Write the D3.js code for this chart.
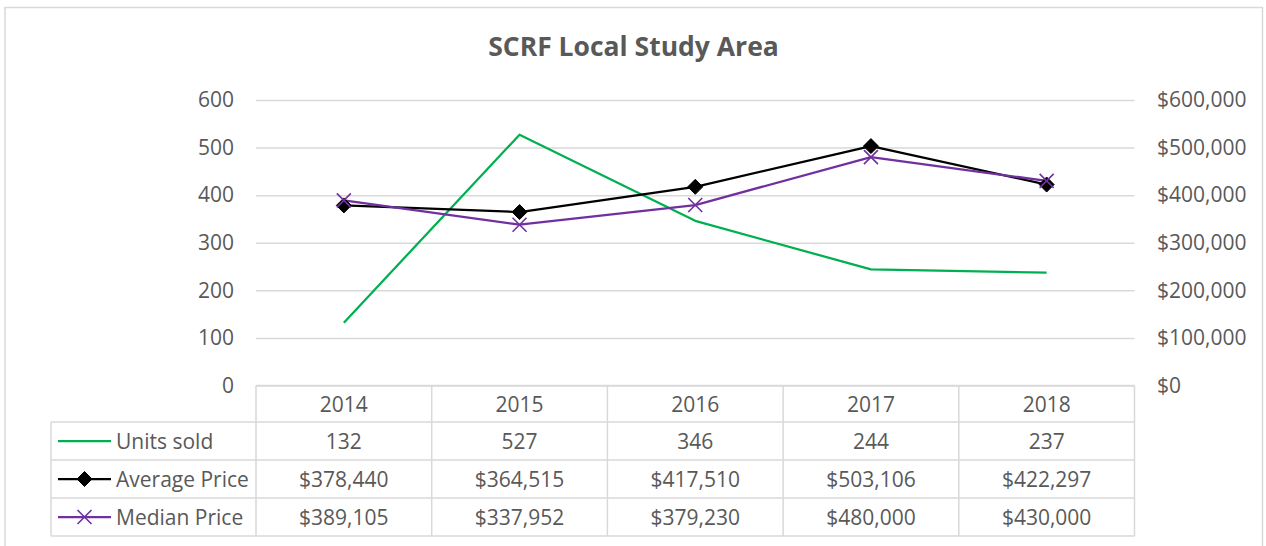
<!DOCTYPE html>
<html>
<head>
<meta charset="utf-8">
<script src="https://cdn.jsdelivr.net/npm/d3@7"></script>
<style>
  html, body { margin: 0; padding: 0; background: #ffffff; }
  svg { display: block; font-family: "Open Sans", sans-serif; }
</style>
</head>
<body>
<svg id="chart" width="1266" height="546"></svg>
<script>
// Yearly figures for the study area
const years = ["2014", "2015", "2016", "2017", "2018"];
const unitsSold = [132, 527, 346, 244, 237];
const averagePrice = [378440, 364515, 417510, 503106, 422297];
const medianPrice = [389105, 337952, 379230, 480000, 430000];
const unitTicks = [0, 100, 200, 300, 400, 500, 600];
const priceTicks = [0, 100000, 200000, 300000, 400000, 500000, 600000];

const seriesNames = ["Units sold", "Average Price", "Median Price"];

const textColor = "#595959";
const gridColor = "#d9d9d9";
const colors = { units: "#00b050", avg: "#000000", med: "#7030a0" };

const svg = d3.select("#chart");

// Outer chart frame
svg.append("rect")
  .attr("x", 5).attr("y", 7.5)
  .attr("width", 1257.5).attr("height", 560)
  .attr("fill", "#fff")
  .attr("stroke", gridColor).attr("stroke-width", 1.5);

const plot = { left: 256, right: 1134.5, top: 100, bottom: 385.5 };

const x = d3.scaleBand().domain(years).range([plot.left, plot.right]).padding(0);
const xc = d => x(d) + x.bandwidth() / 2;
const yUnits = d3.scaleLinear().domain([0, 600]).range([plot.bottom, plot.top]);
const yPrice = d3.scaleLinear().domain([0, 600000]).range([plot.bottom, plot.top]);

// Title
svg.append("text")
  .attr("x", 633.5).attr("y", 56)
  .attr("text-anchor", "middle")
  .attr("font-size", 26.5).attr("font-weight", 700)
  .attr("fill", textColor)
  .text("SCRF Local Study Area");

// Horizontal gridlines
const grid = svg.append("g")
  .attr("transform", `translate(${plot.left},0)`)
  .call(d3.axisLeft(yUnits).tickValues(unitTicks).tickSize(-(plot.right - plot.left)).tickFormat(""));
grid.select(".domain").remove();
grid.selectAll("line").attr("stroke", gridColor).attr("stroke-width", 1.5);

// Left axis (units)
const leftAxis = svg.append("g")
  .attr("transform", `translate(${plot.left},0)`)
  .call(d3.axisLeft(yUnits).tickValues(unitTicks).tickSize(0).tickPadding(22).tickFormat(d3.format("d")));
leftAxis.select(".domain").remove();
leftAxis.selectAll("text")
  .attr("font-size", 21).attr("fill", textColor)
  .attr("font-family", "Open Sans, sans-serif");

// Right axis (prices)
const rightAxis = svg.append("g")
  .attr("transform", `translate(${plot.right},0)`)
  .call(d3.axisRight(yPrice).tickValues(priceTicks).tickSize(0).tickPadding(22.5).tickFormat(d3.format("$,")));
rightAxis.select(".domain").remove();
rightAxis.selectAll("text")
  .attr("font-size", 21).attr("fill", textColor)
  .attr("font-family", "Open Sans, sans-serif");

// Data table below the plot
const rowTops = [385.5, 422, 460, 498, 536];
const legendLeft = 51;
const table = svg.append("g").attr("stroke", gridColor).attr("stroke-width", 1.5).attr("fill", "none");
rowTops.forEach((ry, i) => {
  table.append("line")
    .attr("x1", i === 0 ? plot.left : legendLeft).attr("x2", plot.right)
    .attr("y1", ry).attr("y2", ry);
});
const colEdges = years.map(d => x(d)).concat([plot.right]);
colEdges.forEach(cx => {
  table.append("line").attr("x1", cx).attr("x2", cx)
    .attr("y1", rowTops[0]).attr("y2", rowTops[4]);
});
table.append("line").attr("x1", legendLeft).attr("x2", legendLeft)
  .attr("y1", rowTops[1]).attr("y2", rowTops[4]);

const cellText = (tx, ty, str, anchor) => svg.append("text")
  .attr("x", tx).attr("y", ty)
  .attr("text-anchor", anchor || "middle")
  .attr("dominant-baseline", "central")
  .attr("font-size", 21).attr("fill", textColor)
  .text(str);

const rowMid = i => (rowTops[i] + rowTops[i + 1]) / 2;
years.forEach(y => cellText(xc(y), rowMid(0), y));
const fmtPrice = d3.format("$,");
const rowsData = [unitsSold.map(d3.format("d")), averagePrice.map(fmtPrice), medianPrice.map(fmtPrice)];
rowsData.forEach((vals, r) => {
  vals.forEach((v, i) => cellText(xc(years[i]), rowMid(r + 1), v));
});

// Marker shapes
const drawDiamond = (g, cx, cy) => {
  const h = 7.5;
  g.append("path")
    .attr("d", `M${cx},${cy - h}L${cx + h},${cy}L${cx},${cy + h}L${cx - h},${cy}Z`)
    .attr("fill", colors.avg).attr("stroke", colors.avg).attr("stroke-width", 1)
    .attr("stroke-linejoin", "miter");
};
const drawCross = (g, cx, cy) => {
  const h = 7;
  g.append("path")
    .attr("d", `M${cx - h},${cy - h}L${cx + h},${cy + h}M${cx - h},${cy + h}L${cx + h},${cy - h}`)
    .attr("stroke", colors.med).attr("stroke-width", 1.6).attr("fill", "none");
};

// Legend keys inside the table
const keyX1 = 58, keyX2 = 111, keyMid = (keyX1 + keyX2) / 2;
const legend = svg.append("g");
const legendColors = [colors.units, colors.avg, colors.med];
seriesNames.forEach((name, i) => {
  const cy = rowMid(i + 1);
  legend.append("line").attr("x1", keyX1).attr("x2", keyX2).attr("y1", cy).attr("y2", cy)
    .attr("stroke", legendColors[i]).attr("stroke-width", 2.25);
  if (i === 1) drawDiamond(legend, keyMid, cy);
  if (i === 2) drawCross(legend, keyMid, cy);
  cellText(116, cy, name, "start");
});

// Series lines
const lines = svg.append("g").attr("fill", "none").attr("stroke-width", 2.25).attr("stroke-linejoin", "round");
const unitLine = d3.line().x((d, i) => xc(years[i])).y(d => yUnits(d));
const priceLine = d3.line().x((d, i) => xc(years[i])).y(d => yPrice(d));

lines.append("path").attr("d", unitLine(unitsSold)).attr("stroke", colors.units);
lines.append("path").attr("d", priceLine(averagePrice)).attr("stroke", colors.avg);
const markers = svg.append("g");
averagePrice.forEach((v, i) => drawDiamond(markers, xc(years[i]), yPrice(v)));
lines.append("path").attr("d", priceLine(medianPrice)).attr("stroke", colors.med);
medianPrice.forEach((v, i) => drawCross(markers, xc(years[i]), yPrice(v)));
</script>
</body>
</html>
